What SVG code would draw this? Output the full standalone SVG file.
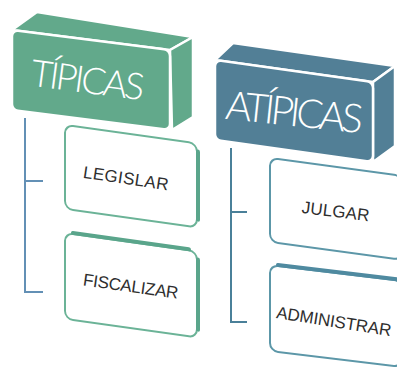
<svg xmlns="http://www.w3.org/2000/svg" width="397" height="367" viewBox="0 0 397 367">
<style>
.g{fill:#62a98b;stroke:#fff;stroke-width:2.5;stroke-linejoin:round}
.b{fill:#527f96;stroke:#fff;stroke-width:2.5;stroke-linejoin:round}
.hd{fill:#fff;font-family:Lato,"Open Sans","Liberation Sans",sans-serif;font-weight:300;text-anchor:middle}
.lb{fill:#2e2e2e;font-family:"Liberation Sans",Arial,sans-serif;text-anchor:middle}
.cg{fill:#fff;stroke:#6bb397;stroke-width:2}
.cb{fill:#fff;stroke:#5c97a8;stroke-width:2}
.tg{fill:none;stroke:#5aa58b;stroke-width:4;stroke-linecap:round}
.tb{fill:none;stroke:#4f8aa0;stroke-width:4;stroke-linecap:round}
.c1{fill:none;stroke:#6390b5;stroke-width:2}
.c2{fill:none;stroke:#4a8099;stroke-width:2}
</style>
<rect width="397" height="367" fill="#fff"/>
<g id="connectors">
<path class="c1" d="M25 118V292H43M25 181H43"/>
<path class="c2" d="M231 148V322H247M231 212H247"/>
</g>
<g id="tipicas">
<polygon class="g" points="12,30 37,12 193,37 170,50"/>
<polygon class="g" points="170,50 193,37 193,117 172,130"/>
<rect class="g" transform="matrix(1,0.127,0,1,12,30)" width="158" height="80" rx="6"/>
<text class="hd" font-size="37" x="86" y="93" textLength="114" transform="rotate(7.5 86 93)">TÍPICAS</text>
</g>
<g id="atipicas">
<polygon class="b" points="215,60 233,43 395,66 373,82"/>
<polygon class="b" points="373,82 395,66 395,146 373,162"/>
<rect class="b" transform="matrix(1,0.139,0,1,215,60)" width="158" height="80" rx="6"/>
<text class="hd" font-size="40" x="293" y="126" textLength="138" transform="rotate(6 293 126)">ATÍPICAS</text>
</g>
<g id="legislar">
<g transform="matrix(1,0.14,0,1,65,125)">
<rect class="cg" width="132" height="84" rx="8"/>
<path class="tg" d="M133 8V76"/>
</g>
<text class="lb" font-size="17" x="125" y="184" textLength="86" transform="rotate(8.5 125 184)">LEGISLAR</text>
</g>
<g id="fiscalizar">
<g transform="matrix(1,0.14,0,1,65,233)">
<rect class="cg" width="132" height="86" rx="8"/>
<path class="tg" d="M8 -1H124M133 8V78"/>
</g>
<text class="lb" font-size="17" x="130" y="292" textLength="96" transform="rotate(8 130 292)">FISCALIZAR</text>
</g>
<g id="julgar">
<g transform="matrix(1,0.135,0,1,270,158)">
<rect class="cb" width="132" height="84" rx="8"/>
</g>
<text class="lb" font-size="17" x="335" y="217" textLength="68" transform="rotate(7 335 217)">JULGAR</text>
</g>
<g id="administrar">
<g transform="matrix(1,0.12,0,1,270,265)">
<rect class="cb" width="132" height="86" rx="8"/>
<path class="tb" d="M8 -1H132"/>
</g>
<text class="lb" font-size="17" x="333" y="327" textLength="116" transform="rotate(9 333 327)">ADMINISTRAR</text>
</g>
</svg>
